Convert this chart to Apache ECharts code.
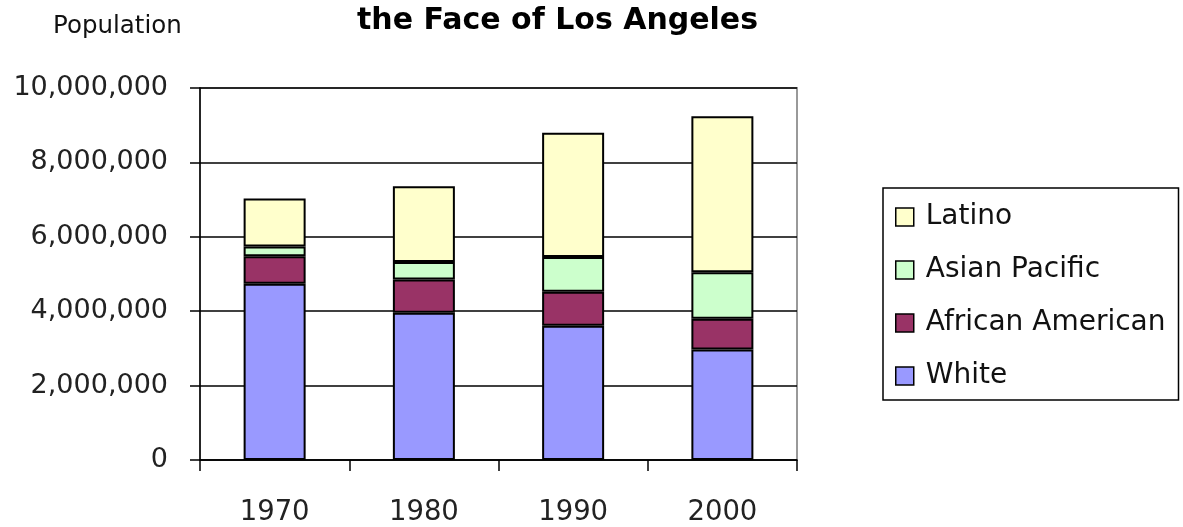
<!DOCTYPE html>
<html>
<head>
<meta charset="utf-8">
<script src="https://cdn.jsdelivr.net/npm/echarts@6/dist/echarts.min.js"></script>
<style>html,body{margin:0;padding:0;background:#fff}#c{width:1183px;height:527px}</style>
</head>
<body>
<div id="c"></div>
<script>
const years = ['1970', '1980', '1990', '2000'];
const white = [4740000, 3960000, 3610000, 2970000];
const african = [740000, 890000, 910000, 830000];
const asian = [260000, 470000, 940000, 1250000];
const latino = [1290000, 2040000, 3340000, 4190000];
const seriesNames = ['White', 'African American', 'Asian Pacific', 'Latino'];
const legendOrder = ['Latino', 'Asian Pacific', 'African American', 'White'];
const colors = ['#9999ff', '#993366', '#ccffcc', '#ffffcc'];
const values = [white, african, asian, latino];

const font = 'DejaVu Sans';
const chart = echarts.init(document.getElementById('c'), null, {renderer: 'canvas'});
const fmt = v => v.toString().replace(/\B(?=(\d{3})+(?!\d))/g, ',');

chart.setOption({
  animation: false,
  backgroundColor: '#fff',
  title: [
    {text: 'the Face of Los Angeles', left: 352, top: 1,
     textStyle: {fontFamily: font, fontWeight: 'bold', fontSize: 30, color: '#000'}},
    {text: 'Population', left: 48, top: 9,
     textStyle: {fontFamily: font, fontWeight: 'normal', fontSize: 24.5, color: '#111'}}
  ],
  legend: {
    data: legendOrder,
    orient: 'vertical',
    left: 883, top: 188,
    padding: [15, 13, 10, 12],
    itemWidth: 18, itemHeight: 18, itemGap: 25,
    borderColor: '#000', borderWidth: 1.5,
    icon: 'rect',
    itemStyle: {borderColor: '#000', borderWidth: 1.5},
    textStyle: {fontFamily: font, fontSize: 28, color: '#111', padding: [0, 0, 0, 7]}
  },
  grid: {left: 200, right: 386, top: 88, bottom: 65, show: true, borderColor: '#999', borderWidth: 2, containLabel: false},
  xAxis: {
    type: 'category', data: years,
    axisLine: {show: true, lineStyle: {color: '#000', width: 1.5}},
    axisTick: {show: true, length: 11, alignWithLabel: false, lineStyle: {color: '#000', width: 1.5}},
    axisLabel: {fontFamily: font, fontSize: 27.5, color: '#222', margin: 39}
  },
  yAxis: {
    type: 'value', min: 0, max: 10000000, interval: 2000000,
    axisLine: {show: true, lineStyle: {color: '#000', width: 1.5}},
    axisTick: {show: true, length: 10, lineStyle: {color: '#000', width: 1.5}},
    splitLine: {show: true, lineStyle: {color: '#000', width: 1.5}},
    axisLabel: {fontFamily: font, fontSize: 27, color: '#222', margin: 32, formatter: fmt}
  },
  series: seriesNames.map((n, i) => ({
    name: n, type: 'bar', stack: 'total', data: values[i], barWidth: 62,
    itemStyle: {color: colors[i], borderColor: '#000', borderWidth: 2}
  }))
});
</script>
</body>
</html>
